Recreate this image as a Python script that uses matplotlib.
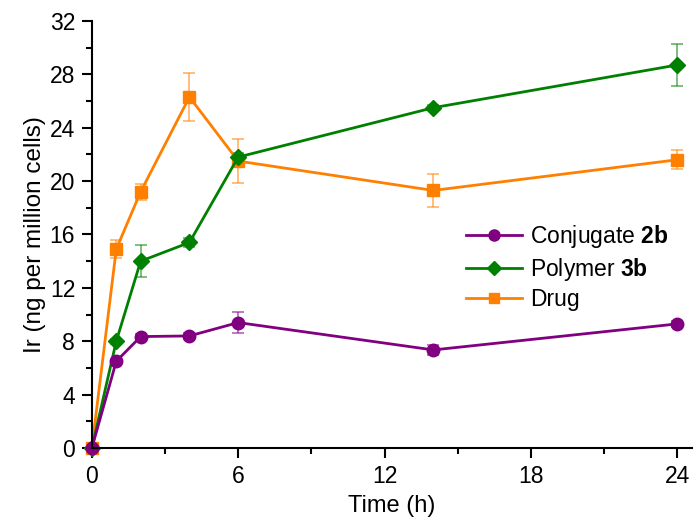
import matplotlib
matplotlib.use("Agg")
import matplotlib.pyplot as plt
from matplotlib.ticker import MultipleLocator
from matplotlib.lines import Line2D

plt.rcParams['font.family'] = ['Liberation Sans', 'DejaVu Sans']
plt.rcParams['mathtext.fontset'] = 'custom'
plt.rcParams['mathtext.rm'] = 'Liberation Sans'
plt.rcParams['mathtext.bf'] = 'Liberation Sans:bold'

time_h = [0, 1, 2, 4, 6, 14, 24]

conj_vals = [0, 6.5, 8.35, 8.4, 9.4, 7.35, 9.3]
conj_err = [0, 0.2, 0.2, 0.2, 0.8, 0.4, 0.2]

poly_vals = [0, 8.0, 14.0, 15.4, 21.8, 25.5, 28.7]
poly_err = [0, 0.2, 1.2, 0.3, 0.3, 0.2, 1.6]

drug_vals = [0, 14.9, 19.2, 26.3, 21.5, 19.3, 21.6]
drug_err = [0, 0.65, 0.6, 1.8, 1.65, 1.25, 0.7]

x_ticks = [0, 6, 12, 18, 24]
y_ticks = [0, 4, 8, 12, 16, 20, 24, 28, 32]

labels = [r"Conjugate $\mathbf{2b}$", r"Polymer $\mathbf{3b}$", "Drug"]
colors = ["#800080", "#008000", "#FF8000"]
markers = ["o", "D", "s"]
msizes = [9, 8, 8.5]

fig = plt.figure(figsize=(6.96, 5.24), dpi=100)
ax = fig.add_axes([0.132, 0.145, 0.862, 0.815])

series = [(conj_vals, conj_err), (poly_vals, poly_err), (drug_vals, drug_err)]
order = [2, 1, 0]
for i in order:
    vals, err = series[i]
    ax.errorbar(time_h, vals, yerr=err, fmt='none', ecolor=colors[i], alpha=0.6,
                elinewidth=1.2, capsize=4, capthick=1.2, zorder=2)
    ax.plot(time_h, vals, color=colors[i], marker=markers[i], markersize=msizes[i],
            linewidth=2, zorder=3)

handles = [Line2D([0], [0], color=colors[i], marker=markers[i], markersize=7 if i else 8,
                  linewidth=2) for i in range(3)]
ax.legend(handles, labels, loc='upper left', bbox_to_anchor=(0.623, 0.527), frameon=False,
          fontsize=16.5, handlelength=2.45, handletextpad=0.35, labelspacing=0.25,
          borderaxespad=0, borderpad=0)

ax.set_xlim(0, 24.6)
ax.set_ylim(0, 32)
ax.set_xticks(x_ticks)
ax.set_yticks(y_ticks)
ax.xaxis.set_minor_locator(MultipleLocator(3))
ax.yaxis.set_minor_locator(MultipleLocator(2))
ax.spines['top'].set_visible(False)
ax.spines['right'].set_visible(False)
for s in ['left', 'bottom']:
    ax.spines[s].set_linewidth(1.5)
ax.tick_params(which='major', direction='out', length=7, width=1.5, labelsize=16.5, pad=5)
ax.tick_params(which='minor', direction='out', length=4, width=1.5)
ax.set_xlabel("Time (h)", fontsize=17, labelpad=5)
ax.set_ylabel("Ir (ng per million cells)", fontsize=17.5, labelpad=3)
for sp in ax.spines.values():
    sp.set_zorder(5)
for line in ax.lines:
    line.set_clip_on(False)

fig.savefig("out.png", dpi=100)
